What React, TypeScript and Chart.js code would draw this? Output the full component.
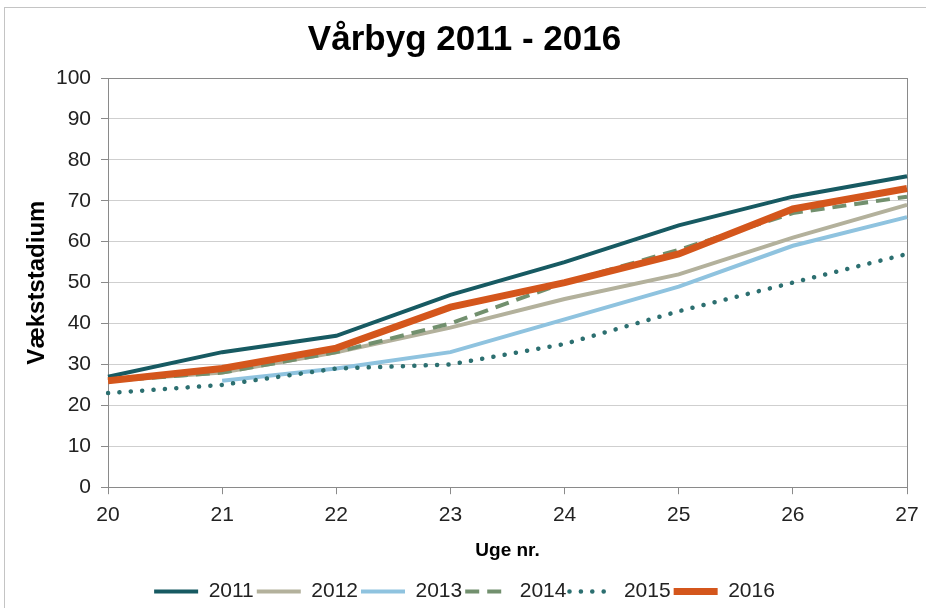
import React, { useEffect, useRef } from "react";
import { Chart, registerables } from "chart.js";

Chart.register(...registerables);

const chartTitle = "Vårbyg 2011 - 2016";
const xTitle = "Uge nr.";
const yTitle = "Vækststadium";
const weeks = ["20", "21", "22", "23", "24", "25", "26", "27"];
const seriesNames = ["2011", "2012", "2013", "2014", "2015", "2016"];
const v2011 = [27, 33, 37, 47, 55, 64, 71, 76];
const v2012 = [26, 28, 33, 39, 46, 52, 61, 69];
const v2013 = [null, 26, 29, 33, 41, 49, 59, 66];
const v2014 = [26, 28, 33, 40, 50, 58, 67, 71];
const v2015 = [23, 25, 29, 30, 35, 43, 50, 57];
const v2016 = [26, 29, 34, 44, 50, 57, 68, 73];
const seriesValues = [v2011, v2012, v2013, v2014, v2015, v2016];

const colors = ["#175a62", "#b3b19c", "#8fc3df", "#72906e", "#2c6f70", "#d4561c"];
const widths = [4, 4, 4, 4, 4.5, 7];
const dashes: number[][] = [[], [], [], [14, 8], [0.1, 11.3], []];
const caps = ["butt", "butt", "butt", "butt", "round", "butt"];

const FONT = "'Liberation Sans', Arial, sans-serif";

const plotBorder = {
  id: "plotBorder",
  beforeDatasetsDraw(chart: any) {
    const { ctx, chartArea } = chart;
    ctx.save();
    ctx.strokeStyle = "#8a8a8a";
    ctx.lineWidth = 1;
    ctx.strokeRect(
      Math.round(chartArea.left) + 0.5,
      Math.round(chartArea.top) + 0.5,
      Math.round(chartArea.right - chartArea.left),
      Math.round(chartArea.bottom - chartArea.top)
    );
    ctx.restore();
  },
};

export default function App() {
  const ref = useRef<HTMLCanvasElement | null>(null);
  useEffect(() => {
    if (!ref.current) return;
    const chart = new Chart(ref.current, {
      type: "line",
      data: {
        labels: weeks,
        datasets: seriesNames.map((name, i) => ({
          label: name,
          data: seriesValues[i],
          borderColor: colors[i],
          backgroundColor: colors[i],
          borderWidth: widths[i],
          borderDash: dashes[i],
          borderCapStyle: caps[i] as any,
          pointRadius: 0,
          pointHoverRadius: 0,
          tension: 0,
          fill: false,
          spanGaps: false,
          order: seriesNames.length - i,
        })),
      },
      options: {
        animation: false,
        responsive: false,
        maintainAspectRatio: false,
        layout: { padding: { left: 22, right: 19, top: 0, bottom: -4 } },
        plugins: {
          tooltip: { enabled: false },
          title: {
            display: true,
            text: chartTitle,
            color: "#000",
            font: { family: FONT, size: 35, weight: "bold" },
            padding: { top: 19, bottom: 17 },
          },
          legend: {
            position: "bottom",
            labels: {
              usePointStyle: true,
              pointStyle: "line",
              pointStyleWidth: 44,
              boxHeight: 21,
              padding: 3,
              color: "#222",
              font: { family: FONT, size: 21 },
              generateLabels: () =>
                seriesNames.map((name, i) => ({
                  text: name,
                  fillStyle: colors[i],
                  strokeStyle: colors[i],
                  lineWidth: widths[i],
                  lineDash: dashes[i],
                  lineCap: caps[i] as any,
                  pointStyle: "line",
                  hidden: false,
                  datasetIndex: i,
                  fontColor: "#222",
                })),
            },
          },
        },
        scales: {
          x: {
            offset: false,
            grid: {
              drawOnChartArea: false,
              tickLength: 7,
              tickColor: "#8a8a8a",
              color: "#d0d0d0",
            },
            border: { color: "#8a8a8a" },
            ticks: {
              color: "#222",
              font: { family: FONT, size: 21, lineHeight: 1 },
              padding: 11,
              maxRotation: 0,
            },
            title: {
              display: true,
              text: xTitle,
              color: "#000",
              font: { family: FONT, size: 19, weight: "bold" },
              padding: { top: 2, bottom: 16 },
            },
            afterFit: (scale: any) => {
              scale.paddingRight = 0;
            },
          },
          y: {
            min: 0,
            max: 100,
            grid: {
              color: "#cfcfcf",
              tickLength: 7,
              tickColor: "#8a8a8a",
            },
            border: { color: "#8a8a8a" },
            ticks: {
              stepSize: 10,
              color: "#222",
              font: { family: FONT, size: 21 },
              padding: 10,
            },
            title: {
              display: true,
              text: yTitle,
              color: "#000",
              font: { family: FONT, size: 24, weight: "bold" },
              padding: { top: 1, bottom: 3 },
            },
            afterFit: (scale: any) => {
              scale.width = 86;
            },
          },
        },
      },
      plugins: [plotBorder],
    });
    return () => chart.destroy();
  }, []);

  return (
    <div style={{ position: "fixed", left: 0, top: 0, width: 926, height: 608, background: "#fff" }}>
      <div
        style={{
          position: "absolute",
          left: 4,
          top: 7,
          right: 0,
          bottom: 0,
          borderLeft: "1px solid #c4c4c4",
          borderTop: "1px solid #c4c4c4",
        }}
      />
      <canvas ref={ref} width={926} height={608} style={{ position: "absolute", left: 0, top: 0 }} />
    </div>
  );
}
